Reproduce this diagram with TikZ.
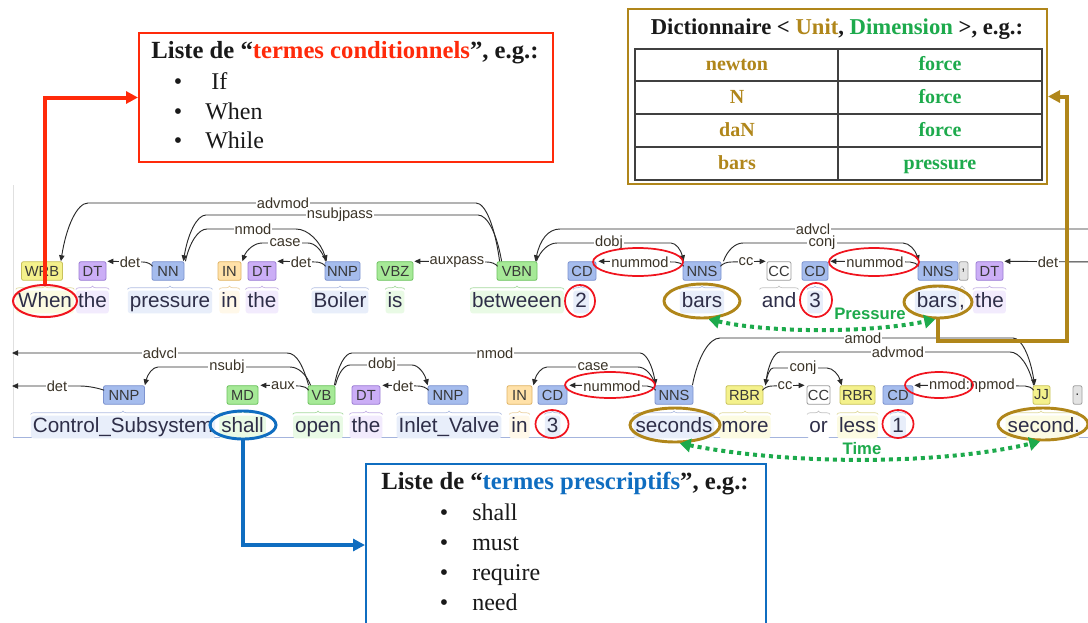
\documentclass[tikz,border=0pt]{standalone}
\usepackage{fontspec}
\setmainfont{Liberation Serif}
\setsansfont{Liberation Sans}
\usetikzlibrary{calc,shapes.geometric,arrows.meta,decorations.pathreplacing}
\definecolor{cred}{HTML}{FF2A0A}
\definecolor{ered}{HTML}{F0141E}
\definecolor{cgold}{HTML}{B0861A}
\definecolor{cgreen}{HTML}{1DAA4C}
\definecolor{cblue}{HTML}{0F6DC0}
\definecolor{arcc}{HTML}{2A2A2A}
\definecolor{labc}{HTML}{3B3428}
\definecolor{wordc}{HTML}{2E2E48}
\definecolor{ylwF}{HTML}{F4F18C}\definecolor{ylwD}{HTML}{C9C25C}
\definecolor{purF}{HTML}{CBAEF6}\definecolor{purD}{HTML}{9C7DD4}
\definecolor{bluF}{HTML}{A5BCED}\definecolor{bluD}{HTML}{7D93CF}
\definecolor{orgF}{HTML}{FFE1A8}\definecolor{orgD}{HTML}{E0B466}
\definecolor{grnF}{HTML}{A6E997}\definecolor{grnD}{HTML}{6DC25F}
\definecolor{whtF}{HTML}{FFFFFF}\definecolor{whtD}{HTML}{9A9A9A}
\definecolor{gryF}{HTML}{E3E3E3}\definecolor{gryD}{HTML}{A0A0A0}
\newcommand\arcdep[6][]{%
  \draw[dep,#1] let \p1=#2, \p2=#5, \p3=(#3,#6), \p4=(#4,#6),
    \p5=({\x1+0.2*(\x3-\x1)},{\y1+0.6*(\y3-\y1)}), \p6=({\x1+0.6*(\x3-\x1)},\y3),
    \p7=({\x2+0.6*(\x4-\x2)},\y4), \p8=({\x2+0.2*(\x4-\x2)},{\y2+0.6*(\y4-\y2)}) in
    (\p1) .. controls (\p5) and (\p6) .. (\p3) -- (\p4) .. controls (\p7) and (\p8) .. (\p2);}
\newcommand\lowdep[5][]{%
  \draw[dep,#1] let \p1=#2, \p3=(#3,#5),
    \p5=({\x1+0.2*(\x3-\x1)},{\y1+0.6*(\y3-\y1)}), \p6=({\x1+0.6*(\x3-\x1)},\y3) in
    (\p1) .. controls (\p5) and (\p6) .. (\p3) -- #4;}
\begin{document}
\begin{tikzpicture}[x=0.75pt,y=-0.75pt,
  tag/.style 2 args={draw=#1D, fill=#1F, rounded corners=1.5pt, line width=0.6pt,
    minimum width=#2*0.75pt, minimum height=14pt, inner sep=0pt,
    font=\sffamily\fontsize{11}{11}\selectfont, text=black!78},
  word/.style={fill=#1F!25, rounded corners=2pt, inner xsep=1.5pt, inner ysep=1pt,
    text height=11.5pt, text depth=3.5pt, font=\sffamily\fontsize{15.5}{16}\selectfont, text=wordc},
  brc/.style={decorate, decoration={brace, amplitude=2.5pt}, draw=#1D!60, line width=0.5pt},
  dep/.style={draw=arcc, line width=0.7pt, -{Triangle[length=4.5pt,width=4pt]}},
  lab/.style={fill=white, inner sep=0.8pt, font=\sffamily\fontsize{11}{11}\selectfont, text=labc},
  ell/.style n args={4}{ellipse, draw=#1, line width=#2, minimum width=#3*0.75pt, minimum height=#4*0.75pt, inner sep=0pt},
  bigarrow/.style={line width=3pt, -{Triangle[length=9pt,width=9pt]}},
  dotgreen/.style={draw=cgreen, line width=3pt, dash pattern=on 3pt off 3pt,
    {Triangle[length=8pt,width=10pt]}-{Triangle[length=8pt,width=10pt]}},
  grlab/.style={text=cgreen, font=\sffamily\bfseries\fontsize{12.5}{13}\selectfont},
  box/.style={draw=#1, line width=1.5pt, fill=white, inner sep=0pt},
  serif/.style={font=\fontsize{18}{20}\selectfont, text=black!90, inner sep=0pt, text height=12.5pt, text depth=3.5pt},
  title/.style={font=\bfseries\fontsize{18.5}{20}\selectfont, text=black!90, inner sep=0pt},
  cell/.style={font=\bfseries\fontsize{15}{16}\selectfont, inner sep=0pt, text height=10.5pt, text depth=3pt}
]
\useasboundingbox (0,0) rectangle (1088,622);
\clip (0,0) rectangle (1088,622);
\fill[white] (0,0) rectangle (1088,622);
% frame of the parse view
\draw[black!12, line width=0.6pt] (13,185) -- (13,437);
\draw[bluD!70, line width=0.6pt] (13,437) -- (1088,437);

% ---------------- words row 1
\node[word=ylw, minimum width=56*0.75pt] (wWhen) at (45,302) {When};
\node[word=pur] (wthe1) at (92.5,302) {the};
\node[word=blu] (wpress) at (170,302) {pressure};
\node[word=org] (win1) at (229.5,302) {in};
\node[word=pur] (wthe2) at (262,302) {the};
\node[word=blu] (wboil) at (340,302) {Boiler};
\node[word=grn] (wis) at (395,302) {is};
\node[word=grn] (wbetw) at (517,302) {betweeen};
\node[word=blu] (wtwo) at (581,302) {2};
\node[word=blu] (wbars1) at (702,302) {bars};
\node[word=wht] (wand) at (779,302) {and};
\node[word=blu] (wthree) at (815,302) {3};
\node[word=blu] (wbars2) at (937,302) {bars};
\node[word=gry, inner xsep=0pt] (wcomma) at (962,302) {,};
\node[word=pur] (wthe3) at (989.5,302) {the};
% ---------------- words row 2
\node[word=blu] (wctrl) at (123,427) {Control\_Subsystem};
\node[word=grn] (wshall) at (242.5,427) {shall};
\node[word=grn] (wopen) at (318,427) {open};
\node[word=pur] (wthe4) at (366,427) {the};
\node[word=blu] (winlet) at (449,427) {Inlet\_Valve};
\node[word=org] (win2) at (519.5,427) {in};
\node[word=blu] (wthree2) at (552.5,427) {3};
\node[word=blu] (wsecs) at (674,427) {seconds};
\node[word=ylw] (wmore) at (745,427) {more};
\node[word=wht] (wor) at (818.5,427) {or};
\node[word=ylw] (wless) at (857.5,427) {less};
\node[word=blu] (wone) at (898,427) {1};
\node[word=ylw] (wsec) at (1041,427) {second};
\node[word=gry, inner xsep=0pt] (wdot) at (1077,427) {.};

% braces
\foreach \w/\c in {wWhen/ylw,wthe1/pur,wpress/blu,win1/org,wthe2/pur,wboil/blu,wis/grn,wbetw/grn,wtwo/blu,wbars1/blu,wand/wht,wthree/blu,wbars2/blu,wcomma/gry,wthe3/pur,
  wctrl/blu,wshall/grn,wopen/grn,wthe4/pur,winlet/blu,win2/org,wthree2/blu,wsecs/blu,wmore/ylw,wor/wht,wless/ylw,wone/blu,wsec/ylw,wdot/gry}
  \draw[brc=\c] ($(\w.north west)+(0,-1)$) -- ($(\w.north east)+(0,-1)$);

% ---------------- tags row 1
\node[tag={ylw}{41}] (tWRB) at (42,271) {WRB};
\node[tag={pur}{27}] (tDT1) at (92.5,271) {DT};
\node[tag={blu}{32}] (tNN) at (168,271) {NN};
\node[tag={org}{23}] (tIN1) at (229.5,271) {IN};
\node[tag={pur}{28}] (tDT2) at (262,271) {DT};
\node[tag={blu}{35}] (tNNP1) at (342.5,271) {NNP};
\node[tag={grn}{36}] (tVBZ) at (395,271) {VBZ};
\node[tag={grn}{40}] (tVBN) at (517,271) {VBN};
\node[tag={blu}{28}] (tCD1) at (582,271) {CD};
\node[tag={blu}{38}] (tNNS1) at (702,271) {NNS};
\node[tag={wht}{24}] (tCC1) at (779,271) {CC};
\node[tag={blu}{26}] (tCD2) at (815,271) {CD};
\node[tag={blu}{40}] (tNNS2) at (938,271) {NNS};
\node[tag={gry}{9}] (tP1) at (963.5,271) {,};
\node[tag={pur}{27}] (tDT3) at (989.5,271) {DT};
% ---------------- tags row 2
\node[tag={blu}{41}] (tNNP2) at (124,395) {NNP};
\node[tag={grn}{31}] (tMD) at (242.5,395) {MD};
\node[tag={grn}{27}] (tVB) at (321.5,395) {VB};
\node[tag={pur}{28}] (tDT4) at (366,395) {DT};
\node[tag={blu}{40}] (tNNP3) at (448,395) {NNP};
\node[tag={org}{25}] (tIN2) at (519.5,395) {IN};
\node[tag={blu}{29}] (tCD3) at (552.5,395) {CD};
\node[tag={blu}{38}] (tNNS3) at (674,395) {NNS};
\node[tag={ylw}{37}] (tRBR1) at (744.5,395) {RBR};
\node[tag={wht}{23}] (tCC2) at (818.5,395) {CC};
\node[tag={ylw}{35}] (tRBR2) at (857.5,395) {RBR};
\node[tag={blu}{30}] (tCD4) at (898,395) {CD};
\node[tag={ylw}{17}] (tJJ) at (1041.5,395) {JJ};
\node[tag={gry}{9}] (tP2) at (1077.5,395) {.};

% ---------------- arcs row 1
\coordinate (advR) at (1095,229);
\coordinate (detR) at (1095,262);
\arcdep{($(tVBN.north west)+(3,0)$)}{476}{88}{($(tWRB.north east)+(-2,0)$)}{203}
\arcdep{($(tVBN.north west)+(5,0)$)}{478}{206}{($(tNN.north east)+(-1,0)$)}{215}
\arcdep{($(tNN.north east)+(1,0)$)}{207}{296}{($(tNNP1.north west)+(2,0)$)}{229}
\arcdep{($(tNNP1.north west)+(1,0)$)}{308}{262}{($(tIN1.north east)+(1,0)$)}{243}
\lowdep{($(tNNP1.north west)+(1,5)$)}{316}{($(tDT2.north east)+(1,0)$)}{262}
\lowdep{($(tNN.north west)+(1,5)$)}{143}{($(tDT1.north east)+(1,0)$)}{262}
\lowdep{($(tVBN.north west)+(1,5)$)}{487}{($(tVBZ.north east)+(1,0)$)}{262}
\arcdep{($(tVBN.north east)+(-1,0)$)}{557}{671}{($(tNNS1.north west)+(1,0)$)}{243}
\draw[dep] (advR) -- (560,229) .. controls (548,229) and (540,240) .. ($(tVBN.north east)+(-2,0)$);
\lowdep{($(tNNS1.north west)+(1,5)$)}{675}{($(tCD1.north east)+(2,0)$)}{262}
\arcdep{($(tNNS1.north east)+(2,0)$)}{743}{903}{($(tNNS2.north west)+(1,0)$)}{243}
\lowdep{($(tNNS1.north east)+(-1,5)$)}{731}{($(tCC1.north west)+(-1,0)$)}{262}
\lowdep{($(tNNS2.north west)+(1,5)$)}{910}{($(tCD2.north east)+(2,0)$)}{262}
\draw[dep] (detR) -- ($(tDT3.north east)+(1,0)$);

% ---------------- arcs row 2
\coordinate (advL) at (12,353);
\coordinate (detL) at (12,386);
\draw[dep] ($(tVB.north west)+(1,0)$) .. controls (303,366) and (297,353) .. (287,353) -- (advL);
\arcdep{($(tVB.north west)+(3,0)$)}{290}{158}{($(tNNP2.north east)+(0,0)$)}{367}
\draw[dep] ($(tNNP2.north west)+(1,5)$) .. controls (98,388) and (88,386) .. (80,386) -- (detL);
\lowdep{($(tVB.north west)+(1,5)$)}{300}{($(tMD.north east)+(2,0)$)}{386}
\arcdep{($(tVB.north east)+(-1,0)$)}{352}{640}{($(tNNS3.north west)+(1,0)$)}{353}
\arcdep{($(tVB.north east)+(0,0)$)}{350}{412}{($(tNNP3.north west)+(0,0)$)}{365}
\lowdep{($(tNNP3.north west)+(1,5)$)}{418}{($(tDT4.north east)+(2,0)$)}{386}
\arcdep{($(tNNS3.north west)+(1,0)$)}{638}{547}{($(tIN2.north east)+(1,0)$)}{367}
\lowdep{($(tNNS3.north west)+(1,5)$)}{647}{($(tCD3.north east)+(2,0)$)}{386}
\arcdep{($(tNNS3.north east)+(-1,0)$)}{720}{1013}{($(tJJ.north west)+(2,0)$)}{338}
\arcdep{($(tJJ.north west)+(1,0)$)}{1010}{780}{($(tRBR1.north east)+(2,0)$)}{352}
\arcdep{($(tRBR1.north east)+(2,0)$)}{773}{827}{($(tRBR2.north west)+(2,0)$)}{368}
\lowdep{($(tRBR1.north east)+(-1,5)$)}{772}{($(tCC2.north west)+(-2,0)$)}{386}
\lowdep{($(tJJ.north west)+(1,5)$)}{1025}{($(tCD4.north east)+(1,0)$)}{386}

% ---------------- arc labels
\node[lab] (l1) at (283,203) {advmod};
\node[lab] (l2) at (340,215) {nsubjpass};
\node[lab] (l3) at (253,229) {nmod};
\node[lab] (l4) at (285,243) {case};
\node[lab] (l5) at (301,262) {det};
\node[lab] (l6) at (130,262) {det};
\node[lab] (l7) at (457,262) {auxpass};
\node[lab] (l8) at (609,243) {dobj};
\node[lab] (l9) at (813,229) {advcl};
\node[lab] (l10) at (640,262) {nummod};
\node[lab] (l11) at (822,243) {conj};
\node[lab] (l12) at (746,262) {cc};
\node[lab] (l13) at (875,262) {nummod};
\node[lab] (l14) at (1048,262) {det};
\node[lab] (l15) at (160,353) {advcl};
\node[lab] (l16) at (227,367) {nsubj};
\node[lab] (l17) at (57,386) {det};
\node[lab] (l18) at (283,386) {aux};
\node[lab] (l19) at (495,353) {nmod};
\node[lab] (l20) at (382,365) {dobj};
\node[lab] (l21) at (403,386) {det};
\node[lab] (l22) at (593,367) {case};
\node[lab] (l23) at (612,386) {nummod};
\node[lab] (l24) at (863,338) {amod};
\node[lab] (l25) at (898,352) {advmod};
\node[lab] (l26) at (803,368) {conj};
\node[lab] (l27) at (785,386) {cc};
\node[lab] (l28) at (972,386) {nmod:npmod};

% ---------------- highlight ellipses
\node[ell={ered}{1.5pt}{64}{32}] (eWhen) at (45,301) {};
\node[ell={ered}{1.3pt}{30}{32}] (eTwo) at (580,301) {};
\node[ell={cgold}{2.2pt}{76}{34}] (eBars1) at (702,301) {};
\node[ell={ered}{1.3pt}{32}{34}] (eThree) at (816,300) {};
\node[ell={cgold}{2.2pt}{68}{32}] (eBars2) at (938,302) {};
\node[ell={cblue}{2.2pt}{66}{28}] (eShall) at (243,425) {};
\node[ell={ered}{1.3pt}{33}{28}] (eThree2) at (552,424) {};
\node[ell={cgold}{2.2pt}{90}{34}] (eSecs) at (675,425) {};
\node[ell={ered}{1.3pt}{31}{28}] (eOne) at (898,424) {};
\node[ell={cgold}{2.2pt}{90}{32}] (eSec) at (1043,424) {};
\node[ell={ered}{1.3pt}{90}{28}] (eN1) at (638,262) {};
\node[ell={ered}{1.3pt}{90}{28}] (eN2) at (874,262) {};
\node[ell={ered}{1.3pt}{90}{26}] (eN3) at (610,385) {};
\node[ell={ered}{1.3pt}{68}{26}] (eN4) at (939,385) {};

% ---------------- green dotted relations
\draw[dotgreen] (eBars1.-70) .. controls (770,333) and (870,333) .. (eBars2.-100);
\node[grlab] (lPress) at (870,314) {Pressure};
\draw[dotgreen] (eSecs.-75) .. controls (790,465) and (940,465) .. (eSec.-100);
\node[grlab] (lTime) at (862,449) {Time};

% ---------------- boxes
\node[box=cred, minimum width=414*0.75pt, minimum height=129*0.75pt] (redbox) at (346,97.5) {};
\node[title] (rt) at (345,53) {Liste de “{\color{cred}termes conditionnels}”, e.g.:};
\node[serif] (rb1) at (178,83) {•};
\node[serif] (rb2) at (178,113) {•};
\node[serif] (rb3) at (178,142) {•};
\node[serif, anchor=west] (ri1) at (211,83) {If};
\node[serif, anchor=west] (ri2) at (205,113) {When};
\node[serif, anchor=west] (ri3) at (205,142) {While};

\node[box=cblue, minimum width=400*0.75pt, minimum height=190*0.75pt, anchor=north west] (bluebox) at (365,463) {};
\node[title] (bt) at (565,484) {Liste de “{\color{cblue}termes prescriptifs}”, e.g.:};
\node[serif] (bb1) at (444,514) {•};
\node[serif] (bb2) at (444,544) {•};
\node[serif] (bb3) at (444,574) {•};
\node[serif] (bb4) at (444,604) {•};
\node[serif, anchor=west] (bi1) at (472,514) {shall};
\node[serif, anchor=west] (bi2) at (472,544) {must};
\node[serif, anchor=west] (bi3) at (472,574) {require};
\node[serif, anchor=west] (bi4) at (472,604) {need};

\node[box=cgold, minimum width=419*0.75pt, minimum height=175*0.75pt] (goldbox) at (837.5,96.5) {};
\node[title, font=\bfseries\fontsize{17}{19}\selectfont] (gt) at (837,29)
  {Dictionnaire < {\color{cgold}Unit}, {\color{cgreen}Dimension} >, e.g.:};
\draw[black!75, line width=1pt] (635,49) rectangle (1042,180);
\draw[black!75, line width=1pt] (838,49) -- (838,180);
\foreach \yy in {81,114,147} \draw[black!75, line width=1pt] (635,\yy) -- (1042,\yy);
\node[cell, text=cgold] (u1) at (737,65) {newton};
\node[cell, text=cgreen] (d1) at (940,65) {force};
\node[cell, text=cgold] (u2) at (737,98) {N};
\node[cell, text=cgreen] (d2) at (940,98) {force};
\node[cell, text=cgold] (u3) at (737,131) {daN};
\node[cell, text=cgreen] (d3) at (940,131) {force};
\node[cell, text=cgold] (u4) at (737,164) {bars};
\node[cell, text=cgreen] (d4) at (940,164) {pressure};

% ---------------- big arrows
\draw[bigarrow, draw=cred] (eWhen.north) |- (redbox.west);
\draw[bigarrow, draw=cblue] (eShall.south) |- ($(bluebox.north west)+(0,82)$);
\draw[bigarrow, draw=cgold] (eBars2.south) -- ++(0,22) -| (1067,150) |- (goldbox.east);
\end{tikzpicture}
\end{document}
